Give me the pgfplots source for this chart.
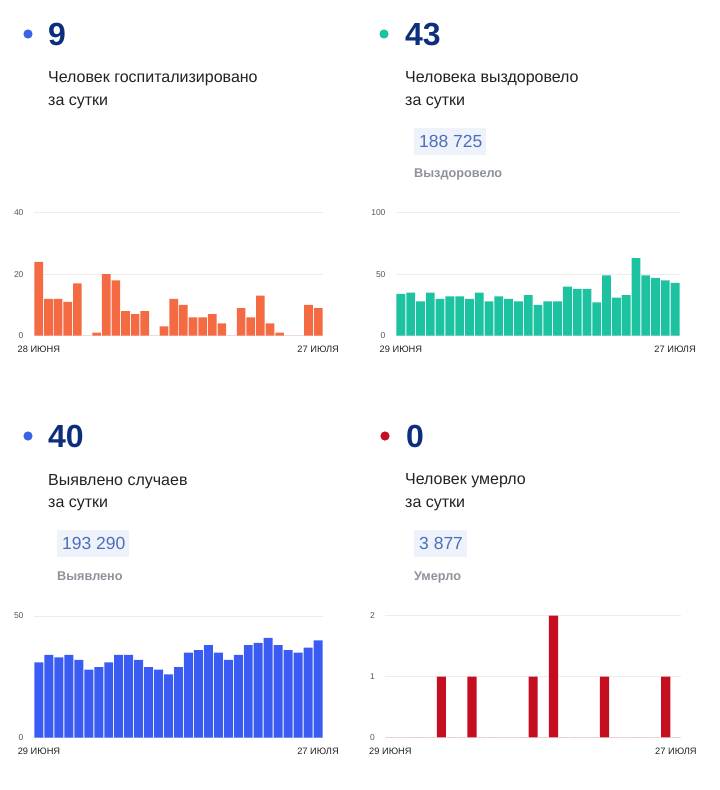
\documentclass[border=0pt]{standalone}
\usepackage{pgfplots}
\pgfplotsset{compat=1.18}
\usepackage{pgfplotstable}
\usepackage{fontspec}
\setmainfont{Liberation Sans}
\definecolor{cOrange}{HTML}{F36A43}
\definecolor{cGreen}{HTML}{1DC3A0}
\definecolor{cBlue}{HTML}{3A5CF2}
\definecolor{cRed}{HTML}{C50E1F}
\definecolor{cDotBlue}{HTML}{3A63E6}
\definecolor{cNavy}{HTML}{0C2E7C}
\definecolor{cText}{HTML}{222222}
\definecolor{cBox}{HTML}{EEF3FB}
\definecolor{cBoxText}{HTML}{4D6FB8}
\definecolor{cGray}{HTML}{8C919B}
\definecolor{cGrid}{HTML}{ECECEC}
\definecolor{cTick}{HTML}{555555}

\pgfplotstableread{
x y
0 24
1 12
2 12
3 11
4 17
5 0
6 1
7 20
8 18
9 8
10 7
11 8
12 0
13 3
14 12
15 10
16 6
17 6
18 7
19 4
20 0
21 9
22 6
23 13
24 4
25 1
26 0
27 0
28 10
29 9
}\hosp

\pgfplotstableread{
x y
0 34
1 35
2 28
3 35
4 30
5 32
6 32
7 30
8 35
9 28
10 32
11 30
12 28
13 33
14 25
15 28
16 28
17 40
18 38
19 38
20 27
21 49
22 31
23 33
24 63
25 49
26 47
27 45
28 43
}\recov

\pgfplotstableread{
x y
0 31
1 34
2 33
3 34
4 32
5 28
6 29
7 31
8 34
9 34
10 32
11 29
12 28
13 26
14 29
15 35
16 36
17 38
18 35
19 32
20 34
21 38
22 39
23 41
24 38
25 36
26 35
27 37
28 40
}\cases

\pgfplotstableread{
x y
0 0
1 0
2 0
3 0
4 0
5 1
6 0
7 0
8 1
9 0
10 0
11 0
12 0
13 0
14 1
15 0
16 2
17 0
18 0
19 0
20 0
21 1
22 0
23 0
24 0
25 0
26 0
27 1
28 0
}\deaths

\pgfplotsset{
  mini/.style={
    scale only axis,
    anchor=south west,
    ybar,
    bar width=0.9,
    enlargelimits=false,
    ymin=0,
    axis line style={draw=none},
    major tick length=0pt,
    ymajorgrids,
    grid style={color=cGrid, line width=0.6pt},
    tick label style={font=\fontsize{8.5}{10}\selectfont, color=cTick},
    /pgf/number format/assume math mode=true,
    yticklabel style={xshift=-7pt},
    xticklabel style={yshift=-7pt, color=cText, font=\fontsize{9.3}{11}\selectfont},
    xtick={0,28},
    clip=false,
  },
  minibar/.style={draw=none, fill=#1},
}

\begin{document}
\begin{tikzpicture}
% bounding box in pixel units (top-left origin)
\begin{scope}[x=1pt,y=-1pt]
\useasboundingbox (0,0) rectangle (720,790);

% ---------- Top left ----------
\fill[cDotBlue] (28,34) circle (4.6);
\node[anchor=base west, inner sep=0, text=cNavy, font=\fontsize{32}{36}\selectfont\bfseries] at (48,45) {9};
\node[anchor=base west, inner sep=0, text=cText, font=\fontsize{16}{18}\selectfont] at (48,82) {Человек госпитализировано};
\node[anchor=base west, inner sep=0, text=cText, font=\fontsize{16}{18}\selectfont] at (48,105) {за сутки};

% ---------- Top right ----------
\fill[cGreen] (384,34) circle (4.6);
\node[anchor=base west, inner sep=0, text=cNavy, font=\fontsize{32}{36}\selectfont\bfseries] at (405,45) {43};
\node[anchor=base west, inner sep=0, text=cText, font=\fontsize{16}{18}\selectfont] at (405,82) {Человека выздоровело};
\node[anchor=base west, inner sep=0, text=cText, font=\fontsize{16}{18}\selectfont] at (405,105) {за сутки};
\fill[cBox] (414,128) rectangle (486,155);
\node[anchor=base west, inner sep=0, text=cBoxText, font=\fontsize{17.5}{20}\selectfont] at (419,147) {188 725};
\node[anchor=base west, inner sep=0, text=cGray, font=\fontsize{12.7}{14}\selectfont\bfseries] at (414,177) {Выздоровело};

% ---------- Bottom left ----------
\fill[cDotBlue] (28,436) circle (4.6);
\node[anchor=base west, inner sep=0, text=cNavy, font=\fontsize{32}{36}\selectfont\bfseries] at (48,447) {40};
\node[anchor=base west, inner sep=0, text=cText, font=\fontsize{16}{18}\selectfont] at (48,485) {Выявлено случаев};
\node[anchor=base west, inner sep=0, text=cText, font=\fontsize{16}{18}\selectfont] at (48,507) {за сутки};
\fill[cBox] (57,530) rectangle (129,557);
\node[anchor=base west, inner sep=0, text=cBoxText, font=\fontsize{17.5}{20}\selectfont] at (62,549) {193 290};
\node[anchor=base west, inner sep=0, text=cGray, font=\fontsize{12.7}{14}\selectfont\bfseries] at (57,580) {Выявлено};

% ---------- Bottom right ----------
\fill[cRed] (385,436) circle (4.6);
\node[anchor=base west, inner sep=0, text=cNavy, font=\fontsize{32}{36}\selectfont\bfseries] at (406,447) {0};
\node[anchor=base west, inner sep=0, text=cText, font=\fontsize{16}{18}\selectfont] at (405,484) {Человек умерло};
\node[anchor=base west, inner sep=0, text=cText, font=\fontsize{16}{18}\selectfont] at (405,507) {за сутки};
\fill[cBox] (414,530) rectangle (467,557);
\node[anchor=base west, inner sep=0, text=cBoxText, font=\fontsize{17.5}{20}\selectfont] at (419,549) {3 877};
\node[anchor=base west, inner sep=0, text=cGray, font=\fontsize{12.7}{14}\selectfont\bfseries] at (414,580) {Умерло};
\end{scope}

% ---------- Chart 1: hospitalised ----------
\begin{axis}[mini, at={(34pt,-335.7pt)}, width=289pt, height=123pt,
  xmin=-0.5, xmax=29.5, ymax=40, ytick={0,20,40},
  xtick={0,29}, xticklabels={28 ИЮНЯ, 27 ИЮЛЯ}]
\addplot[minibar=cOrange] table[x=x,y=y] {\hosp};
\end{axis}

% ---------- Chart 2: recovered ----------
\begin{axis}[mini, at={(396pt,-335.7pt)}, width=284pt, height=123pt,
  xmin=-0.5, xmax=28.5, ymax=100, ytick={0,50,100},
  xticklabels={29 ИЮНЯ, 27 ИЮЛЯ}]
\addplot[minibar=cGreen] table[x=x,y=y] {\recov};
\end{axis}

% ---------- Chart 3: cases ----------
\begin{axis}[mini, at={(34pt,-737.7pt)}, width=289pt, height=121.7pt,
  xmin=-0.5, xmax=28.5, ymax=50, ytick={0,50},
  xticklabels={29 ИЮНЯ, 27 ИЮЛЯ}]
\addplot[minibar=cBlue] table[x=x,y=y] {\cases};
\end{axis}

% ---------- Chart 4: deaths ----------
\begin{axis}[mini, at={(385.3pt,-737.3pt)}, width=295.7pt, height=121.6pt,
  xmin=-0.5, xmax=28.5, ymax=2, ytick={0,1,2},
  xticklabels={29 ИЮНЯ, 27 ИЮЛЯ}]
\addplot[minibar=cRed] table[x=x,y=y] {\deaths};
\end{axis}
\end{tikzpicture}
\end{document}
